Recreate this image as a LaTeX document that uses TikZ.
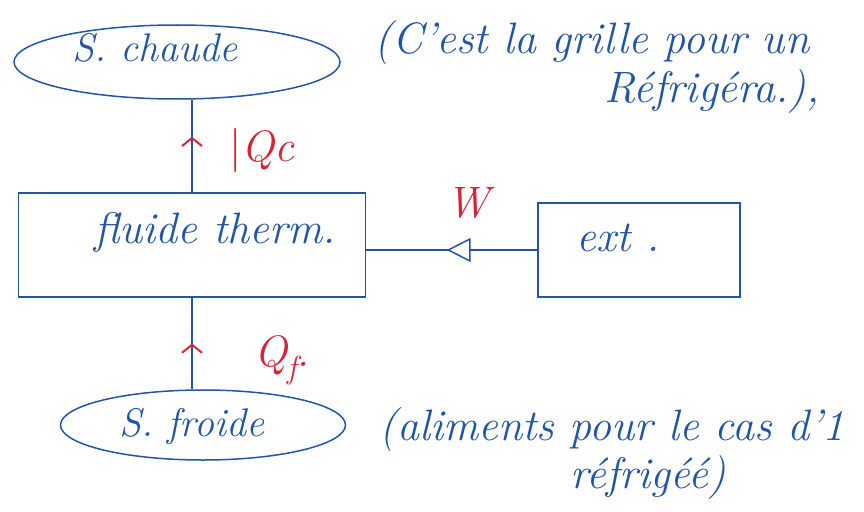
\documentclass[tikz,border=0pt]{standalone}
\usetikzlibrary{arrows.meta,decorations.markings,shapes.geometric}
\definecolor{ink}{RGB}{35,85,165}
\definecolor{redink}{RGB}{215,35,55}
\begin{document}
\begin{tikzpicture}[x=1pt,y=-1pt,line width=1.5pt,
  hand/.style={font=\fontsize{44}{48}\selectfont\itshape, text=ink, inner sep=0pt},
  smallhand/.style={font=\fontsize{40}{44}\selectfont\itshape, text=ink, inner sep=0pt},
  redhand/.style={font=\fontsize{44}{48}\selectfont\itshape, text=redink, inner sep=0pt},
  pool/.style={ellipse, draw=ink, inner sep=0pt},
  boxnode/.style={rectangle, draw=ink, inner sep=0pt},
  flowup/.style={draw=ink, postaction={decorate}, decoration={markings,
     mark=at position #1 with {\arrow[redink,line width=2pt]{Straight Barb[length=8pt,width=20pt]}}}},
  work/.style={draw=ink, postaction={decorate}, decoration={markings,
     mark=at position 0.53 with {\arrow[ink,line width=1.5pt]{Triangle[open,length=24pt,width=24pt,fill=white]}}}}
]
\useasboundingbox (0,0) rectangle (864,511);
% shapes
\node[pool, minimum width=326pt, minimum height=74pt] (chaude) at (177,62) {};
\node[boxnode, minimum width=347pt, minimum height=104pt] (fluide) at (192,245) {};
\node[boxnode, minimum width=202pt, minimum height=94pt] (ext) at (639,250) {};
\node[pool, minimum width=285pt, minimum height=70pt] (froide) at (203,425) {};
% texts
\node[smallhand] (tchaude) at (155,48) {S. chaude};
\node[hand] (tfluide) at (215,232) {fluide therm.};
\node[hand] (text) at (618,238) {ext .};
\node[smallhand] (tfroide) at (192,426) {S. froide};
\node[hand] (note1a) at (592,43) {(C'est la grille pour un};
\node[hand] (note1b) at (712,92) {Réfrigéra.),};
\node[hand] (note2a) at (612,430) {(aliments pour le cas d'1};
\node[hand] (note2b) at (648,478) {réfrigéé)};
\node[redhand] (qc) at (262,150) {{\upshape\textbar}Qc};
\node[redhand] (w) at (468,203) {W};
\node[redhand] (qf) at (282,360) {Q\raisebox{-12pt}{\fontsize{32}{34}\selectfont f}.};
% connectors
\path[flowup=0.6] (fluide.north) -- (fluide.north |- chaude.south);
\path[flowup=0.5] (froide.north -| fluide.south) -- (fluide.south);
\path[work] (ext.west) -- (ext.west -| fluide.east);
\end{tikzpicture}
\end{document}
